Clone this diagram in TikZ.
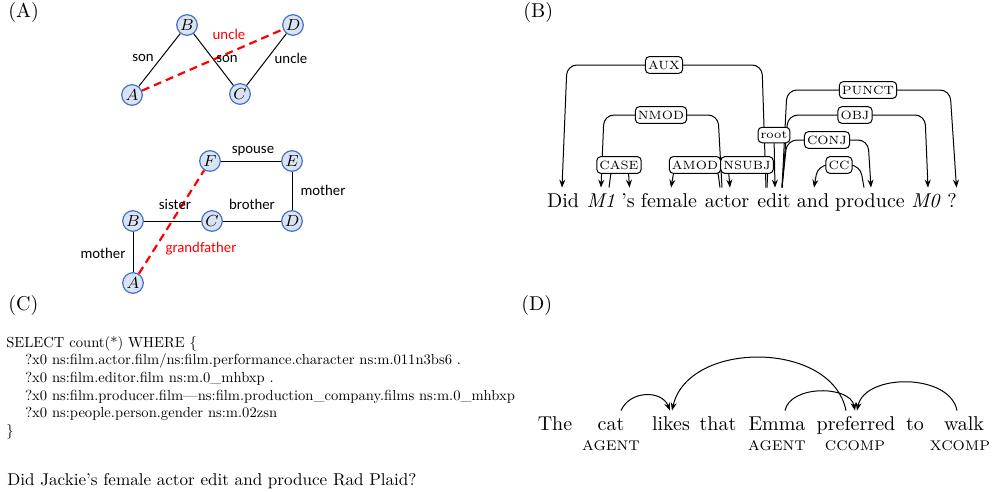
\documentclass[tikz,border=0pt]{standalone}
\usepackage{fontspec}
\newfontfamily\calibri{Carlito}
\usetikzlibrary{calc,arrows.meta}
\definecolor{entfill}{HTML}{DAE3F3}
\definecolor{entrim}{HTML}{4472C4}
\tikzset{
	panel/.style={anchor=base west, inner sep=0pt},
	ent/.style={circle, draw=entrim, fill=entfill, line width=0.6pt, minimum size=10.3pt, inner sep=0pt, font=\fontsize{8.5}{9}\selectfont},
	rel/.style={inner sep=0pt, font=\calibri\fontsize{7.4}{8}\selectfont},
	kin/.style={line width=0.5pt},
	infer/.style={red, line width=1.1pt, dash pattern=on 4pt off 2.5pt},
	word/.style={anchor=base, inner sep=2.5pt, text height=7pt, text depth=2pt},
	dep/.style={line width=0.5pt, rounded corners=5pt},
	deplab/.style={draw, fill=white, rounded corners=2pt, inner xsep=1.3pt, inner ysep=2pt, line width=0.5pt, font=\fontsize{6}{7}\selectfont},
	sparql/.style={anchor=base west, inner sep=0pt, scale=0.73},
	role/.style={anchor=base, inner sep=0pt, font=\scriptsize},
}

\begin{document}
\begin{tikzpicture}[x=0.5pt, y=-0.5pt, >={Stealth[length=4pt, width=3pt]}]
	%%%%% START %%%%%
	\useasboundingbox (0,0) rectangle (998,493);
	
	\node[panel] (pA) at (8,17) {(A)};
	\node[panel] (pB) at (523,17) {(B)};
	\node[panel] (pC) at (8,310) {(C)};
	\node[panel] (pD) at (521,310) {(D)};
	
	%%%%% (A) upper graph %%%%%
	\node[ent] (a1) at (132,95) {$A$};
	\node[ent] (b1) at (187,25) {$B$};
	\node[ent] (c1) at (240,94) {$C$};
	\node[ent] (d1) at (293,25) {$D$};
	\draw[kin] (a1) -- (b1);
	\draw[kin] (b1) -- (c1);
	\draw[kin] (c1) -- (d1);
	\draw[infer] (a1) -- (d1);
	\node[rel] (son1) at (143,58) {son};
	\node[rel] (son2) at (227,59) {son};
	\node[rel] (uncle1) at (291,58) {uncle};
	\node[rel, red] (uncle2) at (229,34) {uncle};
	
	%%%%% (A) lower graph %%%%%
	\node[ent] (f2) at (210,161) {$F$};
	\node[ent] (e2) at (292,161) {$E$};
	\node[ent] (b2) at (133,221) {$B$};
	\node[ent] (c2) at (212,221) {$C$};
	\node[ent] (d2) at (292,221) {$D$};
	\node[ent] (a2) at (133,283) {$A$};
	\draw[kin] (f2) -- (e2);
	\draw[kin] (e2) -- (d2);
	\draw[kin] (b2) -- (c2);
	\draw[kin] (c2) -- (d2);
	\draw[kin] (b2) -- (a2);
	\draw[infer] (a2) -- (f2);
	\node[rel] (spouse) at (253,151) {spouse};
	\node[rel] (mother1) at (323,190) {mother};
	\node[rel] (sister) at (175,204) {sister};
	\node[rel] (brother) at (252,204) {brother};
	\node[rel] (mother2) at (103,253) {mother};
	\node[rel, red] (gfather) at (201,249) {grandfather};
	
	%%%%% (B) dependency tree %%%%%
	\node[word] (did) at (563,207) {Did};
	\node[word] (m1) at (601,207) {\textit{M1}};
	\node[word] (poss) at (628,207) {'s};
	\node[word] (female) at (669,207) {female};
	\node[word] (actor) at (727,207) {actor};
	\node[word] (edit) at (774,207) {edit};
	\node[word] (and) at (813,207) {and};
	\node[word] (produce) at (870,207) {produce};
	\node[word] (m0) at (926,207) {\textit{M0}};
	\node[word] (qmark) at (952,207) {?};
	
	\draw[dep, ->] ($(edit.north)+(-8,0)$) -- (762,65) -- (567,65) -- ($(did.north)+(-1,0)$);
	\draw[dep, ->] ($(actor.north)+(-5,0)$) -- (718,115) -- (604,115) -- ($(m1.north)+(0,0)$);
	\draw[dep, ->] ($(m1.north)+(8,0)$) -- (612,165) -- (628,165) -- ($(poss.north)+(1.5,0)$);
	\draw[dep, ->] ($(actor.north)+(-7,0)$) -- (717,165) -- (675,165) -- ($(female.north)+(2,0)$);
	\draw[dep, ->] ($(edit.north)+(-7,0)$) -- (768,165) -- (728,165) -- ($(actor.north)+(3,0)$);
	\draw[dep, ->] ($(edit.north)+(8,0)$) -- (787,140) -- (868,140) -- ($(produce.north)+(1,0)$);
	\draw[dep, ->] ($(produce.north)+(-6,0)$) -- (860,165) -- (818,165) -- ($(and.north)+(1,0)$);
	\draw[dep, ->] ($(edit.north)+(8,0)$) -- (788,115) -- (925,115) -- ($(m0.north)+(2,0)$);
	\draw[dep, ->] ($(edit.north)+(8,0)$) -- (787,90) -- (950,90) -- ($(qmark.north)+(4.5,0)$);
	
	\node[deplab] (aux) at (664,65) {AUX};
	\node[deplab] (nmod) at (661,115) {NMOD};
	\node[deplab] (case) at (619,165) {CASE};
	\node[deplab] (amod) at (695,165) {AMOD};
	\node[deplab] (nsubj) at (747,165) {NSUBJ};
	\node[deplab] (conj) at (827,140) {CONJ};
	\node[deplab] (cc) at (839,165) {CC};
	\node[deplab] (obj) at (855,115) {OBJ};
	\node[deplab] (punct) at (868,90) {PUNCT};
	\node[deplab] (rootlab) at (774,135) {root};
	\draw[dep, ->] (rootlab) -- ($(edit.north)+(1,0)$);
	
	%%%%% (C) query %%%%%
	\node[sparql] (q1) at (6,347) {SELECT count(*) WHERE \{};
	\node[sparql] (q2) at (25,364.7) {?x0 ns:film.actor.film/ns:film.performance.character ns:m.011n3bs6 .};
	\node[sparql] (q3) at (25,382.4) {?x0 ns:film.editor.film ns:m.0\_mhbxp .};
	\node[sparql] (q4) at (25,400.1) {?x0 ns:film.producer.film—ns:film.production\_company.films ns:m.0\_mhbxp};
	\node[sparql] (q5) at (25,417.8) {?x0 ns:people.person.gender ns:m.02zsn};
	\node[sparql] (q6) at (6,435.5) {\}};
	\node[sparql, scale=1.17] (question) at (7,485) {Did Jackie's female actor edit and produce Rad Plaid?};
	
	%%%%% (D) roles %%%%%
	\node[word] (the) at (555,430) {The};
	\node[word] (cat) at (611,430) {cat};
	\node[word] (likes) at (671,430) {likes};
	\node[word] (that) at (718,430) {that};
	\node[word] (emma) at (777,430) {Emma};
	\node[word] (pref) at (856,430) {preferred};
	\node[word] (to) at (915,430) {to};
	\node[word] (walk) at (964,430) {walk};
	
	\node[role] (agent1) at (611,450) {AGENT};
	\node[role] (agent2) at (777,450) {AGENT};
	\node[role] (ccomp) at (855,450) {CCOMP};
	\node[role] (xcomp) at (960,450) {XCOMP};
	
	\draw[line width=0.5pt, ->] ($(cat.north)+(10,0)$) .. controls (630,390) and (662,390) .. ($(likes.north)+(-1,0)$);
	\draw[line width=0.5pt, ->] ($(pref.north)+(-10,0)$) .. controls (832,340) and (688,340) .. ($(likes.north)+(1,0)$);
	\draw[line width=0.5pt, ->] ($(emma.north)+(8,0)$) .. controls (790,385) and (850,385) .. ($(pref.north)+(-1,0)$);
	\draw[line width=0.5pt, ->] ($(walk.north)+(-7,0)$) .. controls (950,373) and (865,373) .. ($(pref.north)+(1,0)$);
	
	%%%%% END %%%%%
\end{tikzpicture}
\end{document}
